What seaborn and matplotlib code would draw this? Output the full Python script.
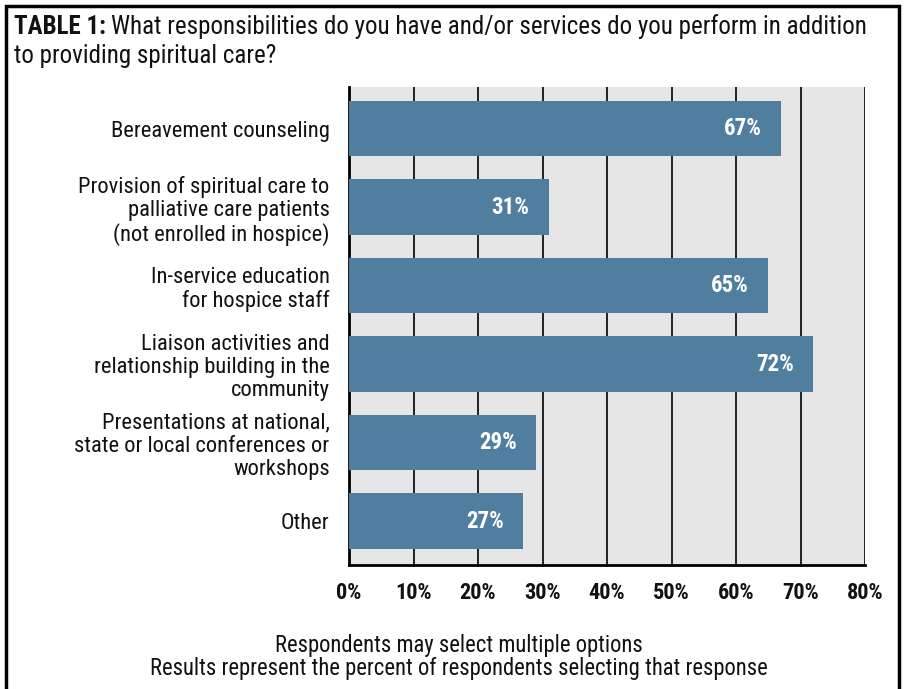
import matplotlib
matplotlib.use("Agg")
import matplotlib.pyplot as plt
import matplotlib.patches as mpatches
import seaborn as sns
import pandas as pd
from matplotlib import font_manager

categories = [
    "Bereavement counseling",
    "Provision of spiritual care to\npalliative care patients\n(not enrolled in hospice)",
    "In-service education\nfor hospice staff",
    "Liaison activities and\nrelationship building in the\ncommunity",
    "Presentations at national,\nstate or local conferences or\nworkshops",
    "Other",
]
values = [67, 31, 65, 72, 29, 27]
tick_values = [0, 10, 20, 30, 40, 50, 60, 70, 80]
tick_labels = ["0%", "10%", "20%", "30%", "40%", "50%", "60%", "70%", "80%"]

sns.set_theme(style="white")

# pick a condensed sans family that ships both a regular and a bold face
fonts = font_manager.fontManager.ttflist
def has_bold(name):
    return any(f.name == name and f.weight >= 700 and f.style == "normal" for f in fonts)
family = "DejaVu Sans"
for cand in ["Roboto Condensed", "Open Sans Condensed", "Asap Condensed",
             "Barlow Semi Condensed", "Archivo Narrow"]:
    if has_bold(cand):
        family = cand
        break
plt.rcParams["font.family"] = [family, "DejaVu Sans"]

df = pd.DataFrame({"category": categories, "value": values})

fig = plt.figure(figsize=(9.06, 6.89), dpi=100)
ax = fig.add_axes([349 / 906, 1 - 565 / 689, (865 - 349) / 906, (565 - 87) / 689])
ax.set_facecolor("#e6e6e6")

sns.barplot(data=df, x="value", y="category", orient="h", color="#4f7e9e",
            saturation=1, width=0.71, linewidth=0, ax=ax, zorder=3)

ax.set_xlim(0, 80)
ax.set_ylim(5.56, -0.53)
ax.set_xticks(tick_values)
ax.set_xticklabels(tick_labels, fontsize=16, fontweight="bold")
ax.grid(axis="x", color="black", linewidth=1.2, zorder=0)
ax.set_axisbelow(True)
ax.tick_params(axis="x", direction="out", length=6, width=1.2, color="black", pad=6.5,
               labelcolor="#111111")
ax.tick_params(axis="y", length=0, pad=14)
for lab in ax.get_yticklabels():
    lab.set_fontsize(16.2)
    lab.set_linespacing(1.13)
    lab.set_color("#111111")
ax.set_xlabel("")
ax.set_ylabel("")
for s in ["top", "right"]:
    ax.spines[s].set_visible(False)
for s in ["left", "bottom"]:
    ax.spines[s].set_color("black")
    ax.spines[s].set_linewidth(2)

for i, v in enumerate(values):
    ax.text(v - 3, i, f"{v}%", ha="right", va="center", color="white",
            fontsize=16.5, fontweight="bold", zorder=5)

# title with a bold prefix
t1 = fig.text(14 / 906, 1 - 34 / 689, "TABLE 1:", fontsize=18, fontweight="bold",
              ha="left", va="baseline", color="#111111")
fig.canvas.draw()
bb = t1.get_window_extent()
fig.text(bb.x1 / 906 + 5 / 906, 1 - 34 / 689,
         "What responsibilities do you have and/or services do you perform in addition",
         fontsize=18, ha="left", va="baseline", color="#111111")
fig.text(14 / 906, 1 - 63 / 689, "to providing spiritual care?", fontsize=18,
         ha="left", va="baseline", color="#111111")

fig.text(459 / 906, 1 - 652 / 689, "Respondents may select multiple options",
         fontsize=16.3, ha="center", va="baseline", color="#111111")
fig.text(459 / 906, 1 - 675 / 689,
         "Results represent the percent of respondents selecting that response",
         fontsize=16.3, ha="center", va="baseline", color="#111111")

# outer frame
frame = mpatches.Rectangle((6 / 906, -0.01), 893 / 906, 1 - 6 / 689 + 0.01,
                           transform=fig.transFigure, fill=False,
                           edgecolor="black", linewidth=2.5)
fig.add_artist(frame)

fig.savefig("out.png", dpi=100)
